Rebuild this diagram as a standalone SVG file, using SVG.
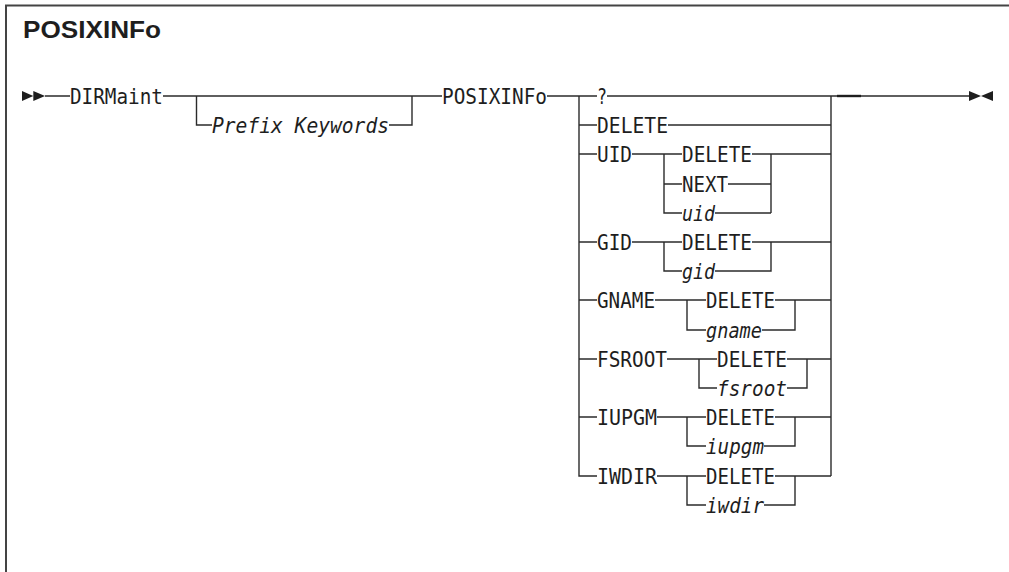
<svg xmlns="http://www.w3.org/2000/svg" width="1009" height="572" viewBox="0 0 1009 572">
<style>
.t{font-family:"DejaVu Sans Mono","Liberation Mono",monospace;font-size:21px;fill:#1e1e1e}
.i{font-style:italic}
.title{font-family:"Liberation Sans",Arial,sans-serif;font-weight:bold;font-size:24px;fill:#1e1e1e}
.ln{fill:none;stroke:#2b2b2b;stroke-width:1.4}
.fr{fill:none;stroke:#444;stroke-width:2}
.ah{fill:#1e1e1e}
</style>
<rect width="1009" height="572" fill="#fff"/>
<g id="frame">
<path class="fr" d="M6,572 V5.5 H1009"/>
</g>
<g id="title"><text class="title" x="23" y="38" textLength="138" lengthAdjust="spacingAndGlyphs">POSIXINFo</text></g>

<g id="connectors">
<polygon class="ah" points="22,91 33.3,96 22,101"/>
<polygon class="ah" points="33.3,91 45,96 33.3,101"/>
<path class="ln" d="M45,96 H70 M163,96 H442 M196.5,96 V125 H212 M389,125 H412 V96"/>
<path class="ln" d="M547,96 H597 M579,96 V476 H597 M579,125 H597 M579,154 H597 M579,242 H597 M579,300 H597 M579,359 H597 M579,417 H597"/>
<path class="ln" d="M607,96 H969 M668,125 H831 M831,96 V476"/>
<!-- UID -->
<path class="ln" d="M632,154 H682 M664,154 V213 H682 M664,184 H682 M752,154 H831 M728,184 H771 M715,213 H771 M771,154 V213"/>
<!-- GID -->
<path class="ln" d="M632,242 H682 M664,242 V271 H682 M752,242 H831 M715,271 H771 V242"/>
<!-- GNAME -->
<path class="ln" d="M655,300 H706 M687,300 V330 H706 M775,300 H831 M762,330 H795 V300"/>
<!-- FSROOT -->
<path class="ln" d="M667,359 H717 M699,359 V388 H717 M787,359 H831 M787,388 H807 V359"/>
<!-- IUPGM -->
<path class="ln" d="M657,417 H706 M687,417 V446 H706 M775,417 H831 M764,446 H795 V417"/>
<!-- IWDIR -->
<path class="ln" d="M657,476 H706 M687,476 V505 H706 M775,476 H831 M764,505 H795 V476"/>
<path d="M837,96 H861" stroke="#1e1e1e" stroke-width="2.4"/>
<polygon class="ah" points="969,91 981,96 969,101"/>
<polygon class="ah" points="993,91 981,96 993,101"/>
</g>

<g id="n-dirmaint"><text class="t" x="70" y="103.5" textLength="93" lengthAdjust="spacingAndGlyphs">DIRMaint</text></g>
<g id="n-prefix"><text class="t i" x="212" y="132.5" textLength="177" lengthAdjust="spacingAndGlyphs">Prefix Keywords</text></g>
<g id="n-posixinfo"><text class="t" x="442" y="103.5" textLength="105" lengthAdjust="spacingAndGlyphs">POSIXINFo</text></g>
<g id="n-q"><text class="t" x="597" y="103.5" textLength="10" lengthAdjust="spacingAndGlyphs">?</text></g>
<g id="n-delete"><text class="t" x="597" y="132.5" textLength="71" lengthAdjust="spacingAndGlyphs">DELETE</text></g>
<g id="n-uid"><text class="t" x="597" y="161.5" textLength="35" lengthAdjust="spacingAndGlyphs">UID</text></g>
<g id="n-uid-delete"><text class="t" x="682" y="161.5" textLength="70" lengthAdjust="spacingAndGlyphs">DELETE</text></g>
<g id="n-uid-next"><text class="t" x="682" y="191.5" textLength="46" lengthAdjust="spacingAndGlyphs">NEXT</text></g>
<g id="n-uid-val"><text class="t i" x="682" y="220.5" textLength="33" lengthAdjust="spacingAndGlyphs">uid</text></g>
<g id="n-gid"><text class="t" x="597" y="249.5" textLength="35" lengthAdjust="spacingAndGlyphs">GID</text></g>
<g id="n-gid-delete"><text class="t" x="682" y="249.5" textLength="70" lengthAdjust="spacingAndGlyphs">DELETE</text></g>
<g id="n-gid-val"><text class="t i" x="682" y="278.5" textLength="33" lengthAdjust="spacingAndGlyphs">gid</text></g>
<g id="n-gname"><text class="t" x="597" y="307.5" textLength="58" lengthAdjust="spacingAndGlyphs">GNAME</text></g>
<g id="n-gname-delete"><text class="t" x="706" y="307.5" textLength="69" lengthAdjust="spacingAndGlyphs">DELETE</text></g>
<g id="n-gname-val"><text class="t i" x="706" y="337.5" textLength="56" lengthAdjust="spacingAndGlyphs">gname</text></g>
<g id="n-fsroot"><text class="t" x="597" y="366.5" textLength="70" lengthAdjust="spacingAndGlyphs">FSROOT</text></g>
<g id="n-fsroot-delete"><text class="t" x="717" y="366.5" textLength="70" lengthAdjust="spacingAndGlyphs">DELETE</text></g>
<g id="n-fsroot-val"><text class="t i" x="717" y="395.5" textLength="70" lengthAdjust="spacingAndGlyphs">fsroot</text></g>
<g id="n-iupgm"><text class="t" x="597" y="424.5" textLength="60" lengthAdjust="spacingAndGlyphs">IUPGM</text></g>
<g id="n-iupgm-delete"><text class="t" x="706" y="424.5" textLength="69" lengthAdjust="spacingAndGlyphs">DELETE</text></g>
<g id="n-iupgm-val"><text class="t i" x="706" y="453.5" textLength="58" lengthAdjust="spacingAndGlyphs">iupgm</text></g>
<g id="n-iwdir"><text class="t" x="597" y="483.5" textLength="60" lengthAdjust="spacingAndGlyphs">IWDIR</text></g>
<g id="n-iwdir-delete"><text class="t" x="706" y="483.5" textLength="69" lengthAdjust="spacingAndGlyphs">DELETE</text></g>
<g id="n-iwdir-val"><text class="t i" x="706" y="512.5" textLength="58" lengthAdjust="spacingAndGlyphs">iwdir</text></g>
</svg>
